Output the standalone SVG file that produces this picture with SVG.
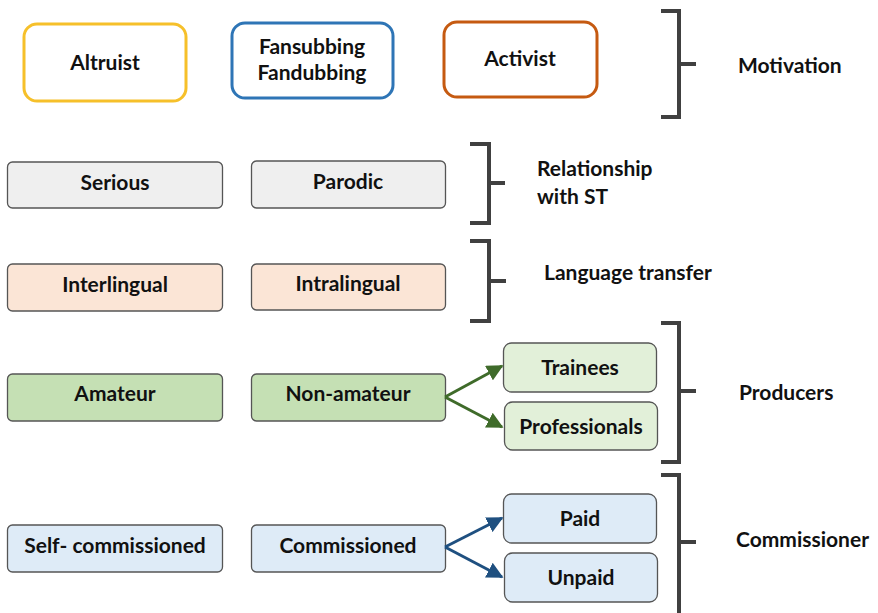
<svg xmlns="http://www.w3.org/2000/svg" width="878" height="613" viewBox="0 0 878 613">
<style>
text{font-family:Lato,"Open Sans","Liberation Sans",sans-serif;font-weight:bold;font-size:21px;fill:#111;text-anchor:middle}
.lab{text-anchor:start}
.top{fill:#fff;stroke-width:3}
.box{stroke:#555;stroke-width:1.3}
.brk{fill:none;stroke:#404040;stroke-width:4}
.g{fill:#c5e0b4}.lg{fill:#e2f0d9}.b{fill:#deebf7}.gr{fill:#efefef}.p{fill:#fbe5d6}
</style>
<defs>
<marker id="ag" viewBox="0 0 10 10" refX="9" refY="5" markerWidth="5.5" markerHeight="5.5" orient="auto"><path d="M0,0 L10,5 L0,10 z" fill="#3f6b2a"/></marker>
<marker id="ab" viewBox="0 0 10 10" refX="9" refY="5" markerWidth="5.5" markerHeight="5.5" orient="auto"><path d="M0,0 L10,5 L0,10 z" fill="#1f5080"/></marker>
</defs>
<g id="altruist"><rect class="top" x="24" y="24" width="162" height="77" rx="13" stroke="#f6c02a"/><text x="105" y="70">Altruist</text></g>
<g id="fansubbing"><rect class="top" x="232" y="23" width="161" height="75" rx="13" stroke="#2e75b6"/><text x="312" y="54">Fansubbing</text><text x="312" y="80">Fandubbing</text></g>
<g id="activist"><rect class="top" x="444" y="22" width="153" height="75" rx="13" stroke="#c55a11"/><text x="520" y="66">Activist</text></g>
<g id="serious"><rect class="box gr" x="7.5" y="162" width="215" height="46" rx="5"/><text x="115" y="190">Serious</text></g>
<g id="parodic"><rect class="box gr" x="251.5" y="161" width="194" height="47" rx="5"/><text x="348" y="189">Parodic</text></g>
<g id="interlingual"><rect class="box p" x="7.5" y="264" width="215" height="47" rx="5"/><text x="115" y="292">Interlingual</text></g>
<g id="intralingual"><rect class="box p" x="251.5" y="264" width="194" height="46" rx="5"/><text x="348" y="291">Intralingual</text></g>
<g id="amateur"><rect class="box g" x="7.5" y="374" width="215" height="47" rx="5"/><text x="115" y="401">Amateur</text></g>
<g id="nonamateur"><rect class="box g" x="251.5" y="374" width="194" height="47" rx="5"/><text x="348" y="401">Non-amateur</text></g>
<g id="trainees"><rect class="box lg" x="503.5" y="343" width="153" height="49" rx="8"/><text x="580" y="375">Trainees</text></g>
<g id="professionals"><rect class="box lg" x="504.5" y="402" width="153" height="48" rx="8"/><text x="581" y="434">Professionals</text></g>
<g id="selfcommissioned"><rect class="box b" x="7.5" y="525" width="215" height="47" rx="5"/><text x="115" y="553">Self- commissioned</text></g>
<g id="commissioned"><rect class="box b" x="251.5" y="525" width="194" height="47" rx="5"/><text x="348" y="553">Commissioned</text></g>
<g id="paid"><rect class="box b" x="503.5" y="494" width="153" height="49" rx="8"/><text x="580" y="526">Paid</text></g>
<g id="unpaid"><rect class="box b" x="504.5" y="553" width="153" height="49" rx="8"/><text x="581" y="585">Unpaid</text></g>
<g id="connectors">
<path d="M445,397 L502,366" stroke="#3f6b2a" stroke-width="3" fill="none" marker-end="url(#ag)"/>
<path d="M445,397 L502,427" stroke="#3f6b2a" stroke-width="3" fill="none" marker-end="url(#ag)"/>
<path d="M445,547 L502,518" stroke="#1f5080" stroke-width="3" fill="none" marker-end="url(#ab)"/>
<path d="M445,547 L502,577" stroke="#1f5080" stroke-width="3" fill="none" marker-end="url(#ab)"/>
</g>
<g id="motivation"><path class="brk" d="M661,11 H679 V117 H661 M679,64 H696"/><text class="lab" x="738" y="73">Motivation</text></g>
<g id="relationship"><path class="brk" d="M470,144 H489 V223 H470 M489,183 H505"/><text class="lab" x="537" y="176">Relationship</text><text class="lab" x="537" y="204">with ST</text></g>
<g id="language"><path class="brk" d="M470,241 H489 V321 H470 M489,281 H506"/><text class="lab" x="544" y="280">Language transfer</text></g>
<g id="producers"><path class="brk" d="M661,323 H679 V462 H661 M679,391 H696"/><text class="lab" x="739" y="400">Producers</text></g>
<g id="commissioner"><path class="brk" d="M661,475 H679 V613 M679,542 H696"/><text class="lab" x="736" y="547">Commissioner</text></g>
</svg>
